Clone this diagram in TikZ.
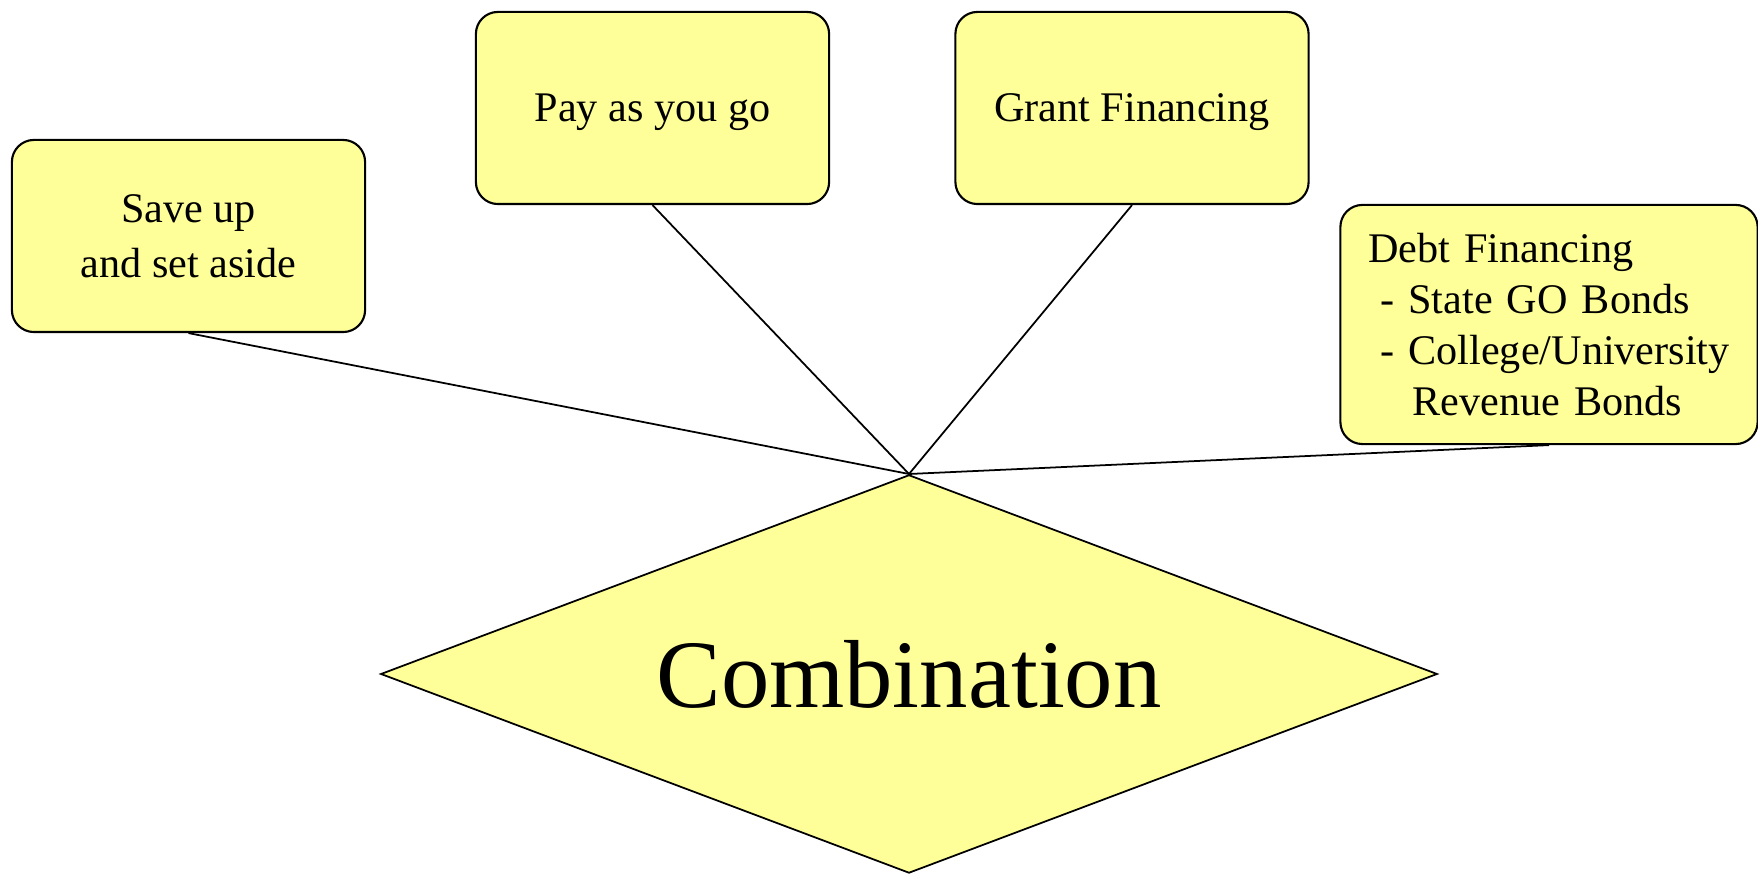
\documentclass[tikz,border=0pt]{standalone}
\usepackage{fontspec}
\setmainfont{Liberation Serif}
\usetikzlibrary{shapes.geometric}

\definecolor{paleyellow}{HTML}{FFFF99}

\begin{document}
\begin{tikzpicture}[x=0.01cm, y=-0.01cm, semithick, font=\fontsize{12}{14.5}\selectfont]

        \tikzstyle{source}=[draw=black, fill=paleyellow, rounded corners=0.22cm, line width=0.6pt,
                            minimum width=3.53cm, minimum height=1.92cm, align=center, inner sep=0pt]
        \tikzstyle{oneline}=[text depth=0pt]
        \tikzstyle{link}=[draw=black, line width=0.5pt]

        \useasboundingbox (0,0) rectangle (1758,874);

        \node[source]           (save)  at (188.5,236)  {Save up\\[1pt]and set aside};
        \node[source, oneline]  (payg)  at (652.5,108)  {Pay as you go};
        \node[source, oneline]  (grant) at (1132,108)   {Grant Financing};
        \node[source, minimum width=4.17cm, minimum height=2.39cm, text width=3.61cm,
              inner xsep=0.28cm, align=left]
                                (debt)  at (1549,324.5) {Debt Financing\\
                                                         \hspace*{0.12cm}- State GO Bonds\\
                                                         \mbox{\hspace*{0.12cm}- College/University}\\
                                                         \hspace*{0.44cm}Revenue Bonds};

        \node[diamond, draw=black, fill=paleyellow, line width=0.5pt, inner sep=0pt, aspect=2.65,
              minimum width=10.56cm, minimum height=3.98cm, oneline,
              font=\fontsize{27.5}{33}\selectfont]
                                (comb)  at (909,674)    {Combination};

        \path[link]
        (save.south)  edge (comb.north)
        (payg.south)  edge (comb.north)
        (grant.south) edge (comb.north)
        (debt.south)  edge (comb.north)
        ;
\end{tikzpicture}
\end{document}
